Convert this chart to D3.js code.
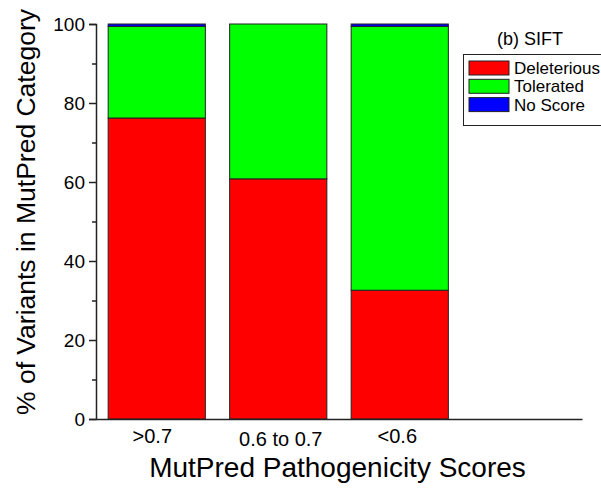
<!DOCTYPE html>
<html>
<head>
<meta charset="utf-8">
<script src="https://cdn.jsdelivr.net/npm/d3@7"></script>
<style>
  html, body { margin: 0; padding: 0; background: #fff; }
  svg { display: block; font-family: Arial, "Liberation Sans", sans-serif; }
</style>
</head>
<body>
<svg id="chart" width="601" height="491"></svg>
<script>
// MutPred score bins and SIFT outcome shares (% of variants per bin)
const categories = [">0.7", "0.6 to 0.7", "<0.6"];
const deleterious = [76.2, 60.8, 32.6];
const tolerated = [23.2, 39.2, 66.8];
const noScore = [0.6, 0.0, 0.6];
const seriesNames = ["Deleterious", "Tolerated", "No Score"];
const seriesColors = ["#ff0000", "#00ff00", "#0000ff"];
const yTicks = [0, 20, 40, 60, 80, 100];
const yMinorTicks = [10, 30, 50, 70, 90];

const svg = d3.select("#chart");
const margin = { left: 96, right: 19, top: 24, bottom: 72 };
const W = 601, H = 491;
const FONT = "Arial, 'Liberation Sans', sans-serif";

// four band slots; the fourth is left empty
const x = d3.scaleLinear().domain([0.5, 4.5]).range([margin.left, W - margin.right]);
const y = d3.scaleLinear().domain([0, 100]).range([H - margin.bottom, margin.top]);
const barW = 0.8;

const rows = categories.map((c, i) => ({ cat: c, pos: i + 1,
  Deleterious: deleterious[i], Tolerated: tolerated[i], "No Score": noScore[i] }));
const stacked = d3.stack().keys(seriesNames)(rows);

const g = svg.append("g");
stacked.forEach((layer, si) => {
  g.selectAll(null).data(layer.filter(d => d[1] - d[0] > 0)).enter().append("rect")
    .attr("x", d => x(d.data.pos - barW / 2))
    .attr("width", d => x(d.data.pos + barW / 2) - x(d.data.pos - barW / 2))
    .attr("y", d => y(d[1]))
    .attr("height", d => y(d[0]) - y(d[1]))
    .attr("fill", seriesColors[si])
    .attr("stroke", "#222")
    .attr("stroke-width", 1);
});

// y axis: major ticks with labels, minor ticks between
const yAxis = d3.axisLeft(y).tickValues(yTicks).tickSize(7).tickPadding(4).tickFormat(d3.format("d"));
const ya = svg.append("g").attr("transform", `translate(${margin.left},0)`).call(yAxis);
ya.select(".domain").attr("stroke", "#222").attr("stroke-width", 1.5);
ya.selectAll(".tick line").attr("stroke", "#222").attr("stroke-width", 1.5);
ya.selectAll(".tick text").attr("font-size", 19).attr("fill", "#000").attr("font-family", FONT);
const yMinor = d3.axisLeft(y).tickValues(yMinorTicks).tickSize(4).tickFormat("");
const ym = svg.append("g").attr("transform", `translate(${margin.left},0)`).call(yMinor);
ym.select(".domain").remove();
ym.selectAll(".tick line").attr("stroke", "#222").attr("stroke-width", 1.5);

// x axis: baseline with category labels under bars
const xAxis = d3.axisBottom(x).tickValues(categories.map((c, i) => i + 1))
  .tickFormat((d) => categories[d - 1]).tickSize(0).tickPadding(10);
const xa = svg.append("g").attr("transform", `translate(0,${y(0)})`).call(xAxis);
xa.select(".domain").attr("stroke", "#222").attr("stroke-width", 1.5);
xa.selectAll(".tick text").attr("font-size", 20).attr("fill", "#000").attr("font-family", FONT)
  .attr("dy", (d) => d === 2 ? "0.86em" : "0.71em")
  .attr("dx", (d) => d === 1 ? -5 : d === 2 ? 2 : -3);

// axis titles
svg.append("text")
  .attr("x", 337.5)
  .attr("y", 477)
  .attr("text-anchor", "middle")
  .attr("font-size", 28)
  .text("MutPred Pathogenicity Scores");

svg.append("text")
  .attr("transform", `translate(35,212) rotate(-90)`)
  .attr("text-anchor", "middle")
  .attr("font-size", 26.5)
  .text("% of Variants in MutPred Category");

// panel title and legend
svg.append("text").attr("x", 530).attr("y", 45).attr("text-anchor", "middle")
  .attr("font-size", 18).text("(b) SIFT");

const leg = svg.append("g");
leg.append("rect").attr("x", 463.5).attr("y", 54.5).attr("width", 150).attr("height", 71)
  .attr("fill", "#fff").attr("stroke", "#222").attr("stroke-width", 1);
seriesNames.forEach((name, i) => {
  const ly = 61 + i * 18.3;
  leg.append("rect").attr("x", 469).attr("y", ly).attr("width", 40).attr("height", 14)
    .attr("fill", seriesColors[i]).attr("stroke", "#222").attr("stroke-width", 1);
  leg.append("text").attr("x", 514).attr("y", ly + 13).attr("font-size", 17).text(name);
});
</script>
</body>
</html>
